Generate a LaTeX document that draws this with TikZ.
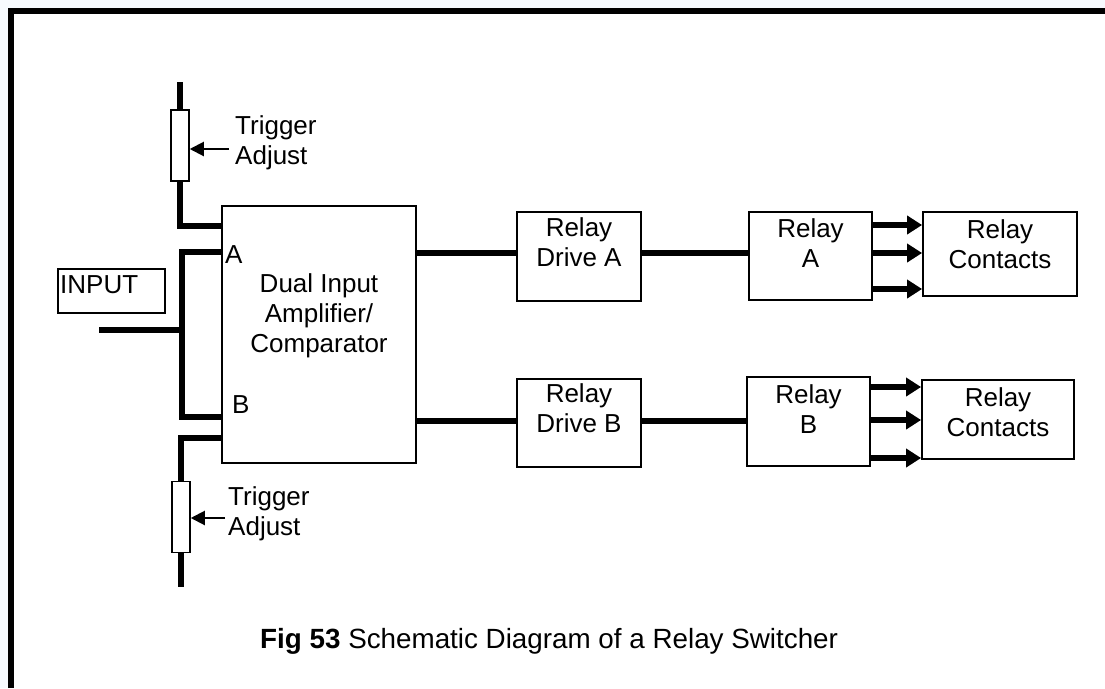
\documentclass[tikz,border=0pt]{standalone}
\usepackage{fontspec}
\setmainfont{Liberation Sans}
\usepackage{tikz}
\usetikzlibrary{positioning,arrows.meta,calc}
\definecolor{ink}   {HTML}{000000}
\definecolor{paper} {HTML}{F7FAFE}
\tikzset{
  box/.style     = {draw=ink, line width=1.8pt, inner sep=0pt},
  pot/.style     = {draw=ink, line width=1.5pt, fill=white, inner sep=0pt,
                    minimum width=18pt, minimum height=71pt},
  wire/.style    = {draw=ink, line width=6pt},
  feed/.style    = {-{Triangle[length=15pt,width=18pt]}, draw=ink, line width=6pt},
  ptr/.style     = {-{Triangle[length=14pt,width=14pt]}, draw=ink, line width=2pt},
  frame/.style   = {draw=ink, line width=6pt},
  lbl/.style     = {font=\fontsize{26}{30}\selectfont, text=ink, inner sep=0pt, align=center},
  caption/.style = {font=\fontsize{27.8}{32}\selectfont, text=ink, inner sep=0pt},
}
\begin{document}
\begin{tikzpicture}[x=1pt, y=-1pt]
  \useasboundingbox (0,0) rectangle (1105,688);
  \fill[paper] (0,0) rectangle (1105,688);
  \fill[white] (11,11) rectangle (1105,688);
  \draw[frame] (11,688) -- (11,11) -- (1105,11);

  \node[box, minimum width=194pt, minimum height=257pt] (amp) at (319,334.5) {};
  \node[box, minimum width=107pt, minimum height=44pt]  (inp) at (111.5,291) {};
  \node[box, minimum width=124pt, minimum height=89pt]  (dra) at (579,256.5) {};
  \node[box, minimum width=124pt, minimum height=88pt]  (drb) at (579,423) {};
  \node[box, minimum width=123pt, minimum height=88pt]  (rla) at (810.5,256) {};
  \node[box, minimum width=123pt, minimum height=89pt]  (rlb) at (808.5,421.5) {};
  \node[box, minimum width=154pt, minimum height=84pt]  (cta) at (1000,254) {};
  \node[box, minimum width=152pt, minimum height=79pt]  (ctb) at (998,419.5) {};
  \node[pot] (pta) at (180,145.5) {};
  \node[pot] (ptb) at (181,517) {};

  \node[lbl, below=68pt of amp.north] (tamp) {Dual Input\\Amplifier/\\Comparator};
  \node[lbl, below=6pt of dra.north]  (tdra) {Relay\\Drive A};
  \node[lbl, below=5pt of drb.north]  (tdrb) {Relay\\Drive B};
  \node[lbl, below=7pt of rla.north]  (trla) {Relay\\A};
  \node[lbl, below=8pt of rlb.north]  (trlb) {Relay\\B};
  \node[lbl, below=8pt of cta.north]  (tcta) {Relay\\Contacts};
  \node[lbl, below=8pt of ctb.north]  (tctb) {Relay\\Contacts};
  \node[lbl, anchor=base west] (tinp) at (60,293)  {INPUT};
  \node[lbl, anchor=base west] (ina)  at (225,263) {A};
  \node[lbl, anchor=base west] (inb)  at (232,413) {B};
  \node[lbl, align=left, anchor=north west] (tga) at (235,115) {Trigger\\Adjust};
  \node[lbl, align=left, anchor=north west] (tgb) at (228,486) {Trigger\\Adjust};
  \node[caption, anchor=base west] (fig) at (260,648)
    {\textbf{Fig 53} Schematic Diagram of a Relay Switcher};

  \coordinate (ttop) at (180,82);
  \coordinate (tbot) at (181,587);
  \coordinate (src)  at (99,330);
  \coordinate (jn)   at (182,330);
  \coordinate (ya)   at (0,226);
  \coordinate (yb)   at (0,438);
  \coordinate (yia)  at (0,252);
  \coordinate (yib)  at (0,417);
  \coordinate (yoa)  at (0,253);
  \coordinate (yob)  at (0,421);
  \coordinate (pa)   at (229,149);
  \coordinate (pb)   at (225,518);

  \draw[wire] (ttop) -- (pta.north);
  \draw[wire] (pta.south) |- (amp.west |- ya);
  \draw[wire] (amp.west |- yia) -| (jn) |- (amp.west |- yib);
  \draw[wire] (src) -- (jn);
  \draw[wire] (amp.west |- yb) -| (ptb.north);
  \draw[wire] (ptb.south) -- (tbot);
  \draw[ptr] (pa) -- (pa -| pta.east);
  \draw[ptr] (pb) -- (pb -| ptb.east);

  \draw[wire] (amp.east |- yoa) -- (dra.west |- yoa);
  \draw[wire] (dra.east |- yoa) -- (rla.west |- yoa);
  \draw[wire] (amp.east |- yob) -- (drb.west |- yob);
  \draw[wire] (drb.east |- yob) -- (rlb.west |- yob);
  \foreach \y in {225,253,289} {
    \coordinate (p) at (0,\y);
    \draw[feed] (rla.east |- p) -- (cta.west |- p);
  }
  \foreach \y in {387,420,458} {
    \coordinate (p) at (0,\y);
    \draw[feed] (rlb.east |- p) -- (ctb.west |- p);
  }
\end{tikzpicture}
\end{document}
